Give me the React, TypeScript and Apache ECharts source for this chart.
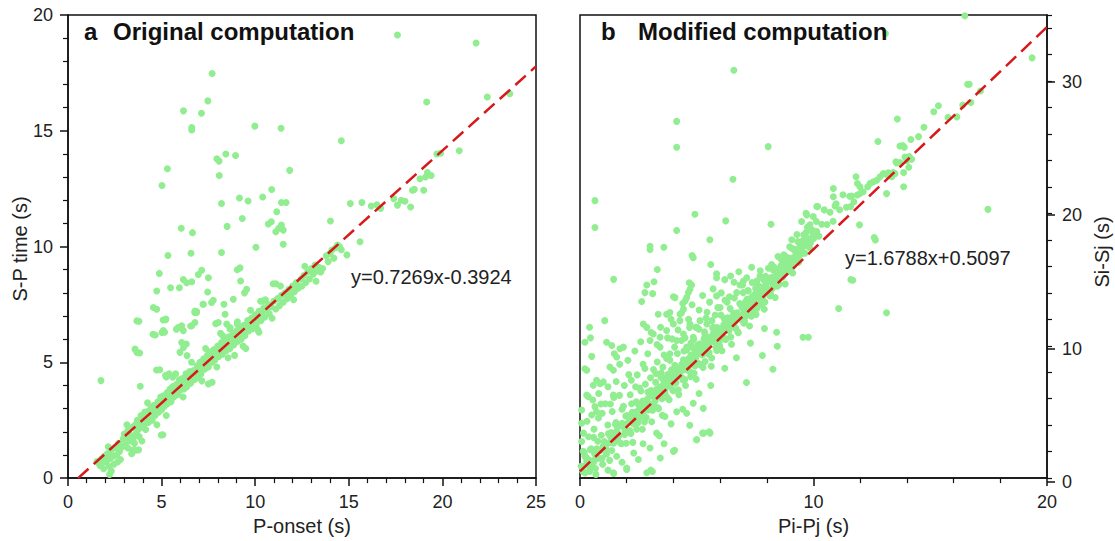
import React, { useEffect, useRef } from "react";
import * as echarts from "echarts";

// ---------- Panel a: P-onset (s) vs S-P time (s) ----------
const aOutliers: number[][] = [
  [17.6, 19.14], [21.8, 18.79], [7.7, 17.47], [7.47, 16.29], [6.17, 15.86], [7.13, 15.76], [6.61, 15.14], [6.61, 15.03],
  [9.98, 15.2], [11.38, 15.11], [14.6, 14.57], [19.16, 16.24], [22.4, 16.46], [23.6, 16.6], [5.31, 13.36], [5.02, 12.64],
  [7.95, 13.79], [8.07, 13.69], [8.43, 14.0], [8.95, 13.93], [8.08, 13.07], [11.84, 13.29], [9.16, 12.1], [9.62, 11.97],
  [10.4, 12.14], [10.88, 12.46], [8.2, 11.86], [11.15, 11.5], [11.4, 11.9], [11.65, 11.9], [9.31, 11.21], [6.05, 10.79],
  [6.65, 10.6], [8.5, 10.87], [10.7, 10.97], [10.86, 11.07], [11.26, 10.79], [11.4, 10.93], [11.5, 10.71], [11.1, 10.64],
  [11.5, 10.1], [10.04, 9.97], [8.2, 9.74], [6.57, 9.71], [5.34, 9.61], [14.02, 11.1], [15.08, 11.86], [15.7, 11.9],
  [15.6, 10.21], [16.2, 11.75], [16.5, 11.8], [16.7, 11.65], [17.4, 12.07], [17.6, 11.79], [18.0, 11.96], [18.3, 11.71],
  [17.8, 12.0], [18.4, 12.43], [18.5, 12.47], [19.0, 12.43], [18.8, 12.93], [19.1, 13.0], [19.4, 13.07], [19.2, 13.2],
  [19.7, 14.0], [19.9, 14.03], [20.9, 14.14],
  [4.88, 8.84], [4.74, 8.08], [5.48, 8.22], [5.95, 8.22], [6.16, 8.58], [6.34, 8.44], [6.61, 8.48], [6.96, 8.79],
  [7.14, 8.98], [7.5, 8.65], [7.46, 8.04], [7.23, 7.51], [7.67, 7.58], [7.76, 7.68], [8.33, 7.51], [8.83, 7.72],
  [6.78, 7.22], [6.87, 7.15], [5.23, 6.87], [4.74, 7.29], [4.56, 7.37], [5.95, 6.51], [6.07, 6.58], [6.61, 6.58],
  [6.78, 6.72], [8.03, 6.72], [8.48, 6.65], [8.65, 6.44], [5.09, 6.37], [6.16, 6.37], [9.19, 9.08], [9.22, 8.51],
  [9.54, 8.15], [11.11, 8.39], [8.39, 7.08], [10.4, 7.65], [9.04, 9.0], [10.96, 8.39], [9.43, 8.0], [10.29, 7.64],
  [3.68, 6.79], [5.08, 6.83], [4.54, 6.21], [5.02, 6.29], [5.79, 6.43], [5.88, 6.5], [6.55, 6.57], [8.66, 6.5],
  [9.05, 6.64], [8.28, 6.14], [7.89, 6.67], [3.58, 5.57], [3.68, 5.43], [3.83, 5.4], [6.07, 5.86], [6.17, 5.64],
  [6.36, 5.29], [5.98, 5.43], [6.32, 5.79], [4.73, 4.67], [1.76, 4.21], [3.86, 3.97], [5.21, 4.43], [5.4, 4.5],
  [5.59, 4.36], [5.25, 4.37], [4.66, 6.18], [5.16, 6.3], [3.79, 6.77], [5.22, 6.84], [7.21, 7.51],
];

const aBand: number[][] = [
  [1.55, 0.72], [1.7, 0.55], [1.8, 0.85], [1.9, 0.4], [1.95, 0.95], [2.05, 0.7], [2.1, 1.05], [2.2, 0.5],
  [2.25, 0.85], [2.3, 1.2], [2.4, 0.95], [2.45, 0.6], [2.55, 1.3], [2.6, 1.0], [2.7, 1.5], [2.75, 1.15],
  [2.8, 0.8], [2.9, 1.35], [2.95, 1.7], [3.0, 1.9], [3.05, 1.45], [3.1, 1.75], [3.2, 1.3], [3.2, 2.05],
  [3.3, 1.6], [3.35, 1.85], [3.45, 2.2], [3.5, 1.75], [3.55, 1.5], [3.6, 2.3], [3.65, 1.95], [3.7, 2.5],
  [3.75, 2.1], [3.8, 1.8], [3.85, 2.35], [3.9, 2.7], [3.95, 2.2], [4.0, 2.55], [4.05, 2.3], [4.1, 2.85],
  [4.15, 2.1], [4.2, 2.6], [4.3, 2.9], [4.3, 2.4], [4.4, 2.75], [4.45, 3.05], [4.5, 2.5], [4.55, 2.85],
  [4.6, 3.15], [4.65, 2.7], [4.7, 3.0], [4.8, 3.3], [4.85, 2.85], [4.9, 3.1], [4.95, 3.5], [5.0, 2.95],
  [5.05, 3.25], [5.1, 3.55], [5.15, 3.1], [5.2, 3.4], [5.3, 3.7], [5.3, 3.2], [5.4, 3.5], [5.45, 3.85],
  [5.5, 3.3], [5.55, 3.6], [5.6, 3.95], [5.65, 3.5], [5.7, 3.75], [5.8, 4.05], [5.85, 3.6], [5.9, 3.9],
  [5.95, 4.25], [6.0, 3.8], [6.05, 4.1], [6.1, 4.3], [6.2, 3.85], [6.25, 4.15], [6.3, 4.5], [6.35, 3.95],
  [6.4, 4.3], [6.5, 4.6], [6.55, 4.1], [6.6, 4.4], [6.7, 4.65], [6.75, 4.25], [6.8, 4.5], [6.9, 4.85],
  [6.95, 4.35], [7.0, 4.7], [7.05, 5.0], [7.1, 4.5], [7.2, 4.85], [7.25, 5.15], [7.3, 4.7], [7.4, 5.0],
  [7.45, 5.3], [7.5, 4.8], [7.55, 5.15], [7.6, 5.45], [7.7, 5.0], [7.75, 5.3], [7.8, 5.55], [7.85, 5.1],
  [7.9, 5.4], [8.0, 5.7], [8.05, 5.25], [8.1, 5.5], [8.2, 5.85], [8.25, 5.35], [8.3, 5.65], [8.4, 5.95],
  [8.45, 5.5], [8.5, 5.8], [8.6, 6.1], [8.65, 5.6], [8.7, 5.9], [8.8, 6.2], [8.85, 5.75], [8.9, 6.05],
  [9.0, 6.35], [9.05, 5.9], [9.1, 6.2], [9.2, 6.5], [9.25, 6.0], [9.3, 6.3], [9.4, 6.6], [9.45, 6.15],
  [9.5, 6.45], [9.6, 6.8], [9.65, 6.35], [9.7, 6.6], [9.8, 6.9], [9.85, 6.45], [9.9, 6.75], [10.0, 7.05],
  [10.05, 6.6], [10.1, 6.9], [10.2, 7.2], [10.3, 6.8], [10.35, 7.1], [10.45, 7.35], [10.5, 6.95], [10.6, 7.25],
  [10.7, 7.5], [10.75, 7.1], [10.85, 7.4], [11.0, 7.65], [11.1, 7.3], [11.2, 7.75], [11.3, 7.45], [11.4, 7.9],
  [11.5, 7.6], [11.6, 8.0], [11.7, 7.75], [11.8, 8.15], [11.9, 7.9], [12.0, 8.3], [12.1, 8.05], [12.2, 8.45],
  [12.3, 8.2], [12.45, 8.6], [12.5, 8.3], [12.6, 8.75], [12.7, 8.45], [12.8, 8.9], [12.9, 8.6], [13.0, 9.05],
  [13.1, 8.8], [13.2, 9.2], [13.3, 8.95], [13.4, 9.1], [13.5, 8.9], [13.6, 9.05], [13.8, 9.6], [14.0, 9.7],
  [14.1, 9.85], [14.3, 9.95], [14.4, 10.07], [14.6, 9.86], [14.9, 9.64], [14.5, 10.0], [13.9, 9.35], [14.2, 9.5],
  [3.45, 1.2], [3.6, 1.2], [3.77, 1.22], [4.98, 1.86], [7.5, 4.07], [7.7, 4.14], [9.5, 5.6], [10.2, 6.3],
  [8.9, 5.3], [1.78, 0.59], [2.22, 0.16], [2.31, 0.3], [5.07, 1.87], [4.9, 4.68], [6.77, 7.15], [6.87, 7.19],
  [2.15, 1.35], [2.65, 0.7], [3.15, 2.3], [3.4, 1.05], [3.95, 1.6], [4.25, 3.25], [4.75, 2.3], [5.25, 2.7],
  [5.75, 4.5], [6.15, 3.5], [6.6, 5.0], [7.15, 4.2], [7.35, 5.6], [7.95, 4.8], [8.15, 6.25], [8.55, 5.2],
  [9.05, 6.75], [9.35, 5.7], [9.75, 7.25], [10.15, 6.4], [10.55, 7.7], [10.9, 6.9], [11.35, 8.3], [12.05, 7.7],
  [12.65, 9.15], [13.25, 8.5],
];

// ---------- Panel b: Pi-Pj (s) vs Si-Sj (s) ----------
const bOutliers: number[][] = [
  [16.48, 34.95], [13.08, 33.6], [6.59, 30.83], [19.36, 31.76], [4.14, 26.96], [4.14, 25.0], [8.06, 25.05], [6.55, 22.59],
  [0.64, 20.97], [0.64, 18.94], [4.92, 19.94], [6.24, 19.44], [8.18, 19.19], [4.14, 18.72], [5.56, 18.01], [3.0, 17.52],
  [3.0, 17.27], [3.59, 17.45], [4.8, 16.82], [4.85, 16.66], [5.6, 16.14], [7.35, 15.94], [17.47, 20.31], [16.6, 29.76],
  [16.67, 29.76], [17.15, 29.26], [16.74, 28.38], [16.39, 28.19], [15.15, 27.69], [15.35, 28.14], [15.76, 27.26], [16.14, 27.3],
  [13.59, 27.14], [14.73, 26.51], [14.5, 25.81], [14.17, 25.59], [12.76, 25.44], [13.82, 25.14], [13.89, 25.01], [13.56, 23.81],
  [13.7, 23.85], [14.1, 24.3], [14.2, 24.1], [14.0, 24.0], [13.86, 23.09], [13.18, 22.89], [13.41, 23.1], [13.86, 22.02],
  [13.49, 23.01], [13.35, 22.77], [13.2, 23.07], [12.99, 23.01], [12.85, 22.77], [12.71, 22.51], [12.56, 22.39], [12.42, 22.26],
  [12.32, 22.02], [12.13, 21.64], [11.99, 21.51], [11.88, 21.39], [11.82, 22.77], [11.88, 22.26], [11.99, 22.02], [10.85, 21.89],
  [10.85, 21.27], [10.92, 20.56], [10.18, 20.52], [9.68, 20.01], [11.63, 21.31], [11.73, 20.89], [11.59, 20.52], [13.13, 21.5],
  [13.92, 24.26], [13.53, 23.9], [14.08, 23.5], [13.7, 25.1], [11.97, 19.14], [12.6, 18.19], [12.65, 18.0],
  [11.6, 15.0], [11.68, 14.95], [11.08, 12.82], [13.13, 12.49], [9.55, 10.64], [9.78, 10.64], [8.45, 9.97], [8.42, 11.02],
  [7.81, 9.27], [8.26, 8.22], [7.13, 7.22], [4.99, 2.9], [5.3, 3.4], [5.53, 3.5], [4.05, 2.1], [3.44, 1.52],
  [3.03, 0.6], [3.1, 0.5], [2.0, 0.65], [1.44, 0.35], [0.68, 0.28], [1.44, 15.02],
  [3.31, 15.77], [5.85, 15.44], [5.85, 15.14], [6.45, 15.27], [2.86, 14.6], [3.17, 14.84], [3.11, 13.94], [2.78, 14.02],
  [2.64, 13.34], [4.68, 14.77], [4.78, 14.59], [4.71, 14.27], [4.64, 14.02], [4.57, 13.64], [4.5, 13.39], [4.4, 13.19],
  [4.07, 13.64], [4.0, 13.7], [4.43, 12.77], [4.28, 12.39], [3.85, 12.52], [3.71, 12.39], [3.35, 12.39], [5.85, 13.77],
  [7.14, 15.14], [6.85, 14.59], [6.71, 14.02], [6.99, 14.02], [7.21, 14.14], [7.71, 15.27], [7.85, 15.02], [8.0, 14.77],
  [7.57, 14.9], [8.21, 16.14], [8.57, 16.64], [8.71, 16.39], [9.07, 18.01], [9.49, 19.39], [9.71, 19.89], [9.99, 19.77],
  [10.14, 20.52], [9.85, 19.14], [9.64, 18.39], [9.99, 18.39], [10.14, 18.64],
  [2.71, 11.64], [2.86, 11.39], [3.14, 10.89], [3.43, 10.64], [3.0, 10.4], [3.71, 11.15], [4.0, 11.64], [4.28, 11.9],
  [4.71, 11.64], [5.0, 11.39], [5.14, 11.9], [5.43, 11.64], [5.71, 11.39], [4.14, 10.4], [4.43, 10.89], [4.85, 10.64],
  [3.43, 9.9], [3.85, 9.4], [4.57, 9.9], [5.14, 10.15],
  [0.21, 10.27], [0.5, 9.2], [1.14, 10.27], [1.36, 10.02], [1.71, 9.77], [1.86, 9.9], [1.47, 9.4], [1.57, 9.15],
  [0.21, 8.27], [0.29, 8.15], [1.28, 8.4], [1.43, 8.15], [0.71, 7.4], [0.86, 7.14], [1.0, 7.27], [0.57, 7.02],
  [0.29, 6.27], [0.36, 6.15], [1.43, 6.27], [0.64, 5.4], [0.71, 5.02], [0.5, 4.77], [0.07, 5.15], [0.07, 4.15],
  [0.07, 2.77], [0.14, 2.02], [0.21, 1.65], [0.29, 1.27], [0.14, 0.9], [0.43, 0.65], [3.28, 3.4], [3.0, 2.27],
  [2.5, 1.4], [2.86, 0.4], [2.0, 0.77], [1.43, 0.4], [4.0, 2.02], [5.0, 2.9], [5.25, 3.4], [5.57, 3.4],
  [4.57, 4.9], [4.85, 5.65], [5.28, 5.27], [4.14, 5.02], [3.64, 4.65], [0.41, 11.4], [1.06, 11.9], [0.45, 10.6],
];

const bBand: number[][] = [
  [0.05, 0.89], [0.12, 0.51], [0.18, 1.91], [0.22, 0.38], [0.31, 1.43], [0.37, 3.13], [0.41, 0.5], [0.48, 2.22],
  [0.53, 1.3], [0.58, 3.08], [0.66, 0.72], [0.72, 2.22], [0.79, 4.54], [0.83, 1.5], [0.91, 3.24], [0.97, 1.04],
  [1.02, 2.42], [1.08, 5.62], [1.13, 1.81], [1.19, 4.01], [1.27, 1.34], [1.33, 3.44], [1.38, 5.03], [1.44, 2.63],
  [1.52, 4.06], [1.57, 1.65], [1.63, 3.35], [1.69, 6.25], [1.74, 2.63], [1.81, 4.15], [1.86, 5.43], [1.93, 3.55],
  [1.98, 2.63], [2.04, 4.73], [2.09, 7.82], [2.13, 3.59], [2.21, 5.62], [2.26, 2.7], [2.32, 4.71], [2.38, 6.91],
  [2.43, 3.69], [2.49, 5.59], [2.56, 4.61], [2.61, 6.59], [2.67, 3.69], [2.72, 5.48], [2.78, 8.28], [2.84, 4.58],
  [2.91, 6.5], [2.96, 5.38], [3.02, 7.58], [3.07, 4.26], [3.14, 6.38], [3.19, 5.47], [3.24, 7.25], [3.31, 8.77],
  [3.36, 5.25], [3.42, 6.45], [3.48, 7.95], [3.53, 4.74], [3.59, 7.34], [3.65, 6.34], [3.71, 9.04], [3.77, 7.84],
  [3.82, 5.92], [3.88, 7.42], [3.94, 10.52], [3.99, 6.61], [4.06, 8.53], [4.11, 7.21], [4.17, 9.41], [4.23, 6.31],
  [4.28, 8.2], [4.34, 10.4], [4.41, 7.41], [4.46, 8.9], [4.52, 7.0], [4.57, 9.68], [4.63, 8.38], [4.69, 11.38],
  [4.74, 7.67], [4.81, 9.29], [4.87, 10.49], [4.92, 8.47], [4.98, 7.47], [5.04, 10.07], [5.09, 11.26], [5.15, 8.56],
  [5.21, 9.66], [5.27, 8.36], [5.33, 11.06], [5.38, 9.54], [5.44, 12.54], [5.51, 9.36], [5.56, 10.64], [5.62, 8.45],
  [5.68, 11.35], [5.73, 10.33], [5.79, 12.33], [5.86, 9.65], [5.91, 11.03], [5.97, 10.33], [6.03, 12.33], [6.08, 9.62],
  [6.14, 11.12], [6.21, 13.44], [6.26, 10.52], [6.32, 12.12], [6.38, 11.12], [6.43, 12.81], [6.49, 10.11], [6.56, 12.22],
  [6.61, 13.61], [6.67, 11.31], [6.72, 12.19], [6.78, 10.99], [6.84, 13.19], [6.91, 12.21], [6.96, 14.6], [7.02, 11.7],
  [7.08, 13.3], [7.13, 12.28], [7.19, 14.18], [7.26, 11.5], [7.31, 13.28], [7.37, 14.78], [7.43, 12.68], [7.48, 13.87],
  [7.54, 12.37], [7.61, 14.59], [7.66, 13.57], [7.72, 15.67], [7.78, 13.07], [7.83, 14.26], [7.89, 12.76], [7.95, 15.26],
  [8.02, 14.28], [8.07, 15.86], [8.13, 13.76], [8.19, 15.16], [8.24, 14.34], [8.31, 15.96], [8.36, 13.65], [8.42, 15.35],
  [8.48, 16.75], [8.54, 14.65], [8.61, 16.07], [8.67, 15.47], [8.73, 16.87], [8.79, 14.67], [8.86, 16.39], [8.92, 15.69],
  [8.98, 17.49], [9.04, 16.29], [9.11, 15.5], [9.17, 17.31], [9.23, 16.81], [9.29, 18.41], [9.36, 16.32], [9.42, 17.53],
  [9.51, 16.98], [9.58, 18.39], [9.66, 17.63], [9.74, 18.96], [9.83, 17.41], [9.92, 18.66], [10.01, 18.12], [10.12, 19.4],
  [10.23, 18.29], [10.35, 19.19], [10.46, 20.27], [10.58, 19.17], [10.71, 20.09], [10.84, 19.41], [10.97, 20.73], [11.12, 20.28],
  [11.26, 21.41], [11.41, 20.47], [11.55, 21.3],
];

const bCore: number[][] = [
  [0.08, 0.84], [0.16, 0.48], [0.27, 1.56], [0.34, 0.98], [0.44, 2.15], [0.51, 0.87], [0.62, 1.85], [0.69, 1.47],
  [0.76, 2.79], [0.87, 2.07], [0.94, 1.49], [1.04, 2.76], [1.11, 2.17], [1.22, 3.36], [1.29, 2.68], [1.36, 2.09],
  [1.47, 3.38], [1.54, 4.2], [1.61, 2.91], [1.72, 4.0], [1.78, 2.6], [1.88, 3.87], [1.96, 4.7], [2.02, 3.5],
  [2.11, 4.35], [2.18, 3.37], [2.24, 4.97], [2.34, 4.44], [2.41, 5.76], [2.47, 4.16], [2.53, 5.16], [2.63, 4.73],
  [2.69, 5.83], [2.76, 4.24], [2.82, 5.34], [2.88, 5.95], [2.94, 5.15], [3.04, 6.61], [3.11, 5.13], [3.17, 6.13],
  [3.22, 5.82], [3.28, 6.72], [3.34, 5.32], [3.39, 6.4], [3.46, 7.62], [3.51, 6.0], [3.57, 7.0], [3.63, 6.5],
  [3.68, 7.59], [3.74, 6.09], [3.79, 7.17], [3.86, 6.99], [3.92, 8.19], [3.97, 6.68], [4.03, 7.68], [4.09, 7.18],
  [4.14, 8.26], [4.21, 6.68], [4.26, 7.76], [4.32, 8.36], [4.38, 7.56], [4.43, 8.95], [4.49, 7.45], [4.55, 8.35],
  [4.61, 8.15], [4.67, 9.05], [4.72, 8.03], [4.78, 8.94], [4.84, 9.84], [4.89, 7.92], [4.96, 9.14], [5.02, 8.74],
  [5.07, 9.92], [5.13, 8.62], [5.18, 9.71], [5.24, 9.31], [5.31, 10.53], [5.36, 8.81], [5.42, 9.81], [5.48, 10.41],
  [5.53, 9.49], [5.59, 10.29], [5.64, 9.08], [5.71, 10.9], [5.77, 10.3], [5.82, 9.88], [5.88, 11.38], [5.94, 10.78],
  [5.99, 9.97], [6.06, 11.28], [6.11, 10.67], [6.17, 12.07], [6.23, 10.47], [6.29, 11.47], [6.34, 11.15], [6.41, 12.07],
  [6.46, 10.66], [6.52, 11.66], [6.58, 12.46], [6.64, 11.36], [6.69, 12.24], [6.76, 11.06], [6.81, 12.04], [6.87, 13.14],
  [6.93, 11.95], [6.99, 12.85], [7.05, 11.85], [7.11, 12.75], [7.16, 13.53], [7.22, 12.53], [7.28, 13.23], [7.34, 12.23],
  [7.39, 13.72], [7.46, 13.13], [7.52, 14.34], [7.57, 12.82], [7.63, 13.72], [7.69, 13.22], [7.75, 14.42], [7.81, 13.62],
  [7.86, 14.31], [7.92, 13.31], [7.98, 15.01], [8.04, 14.31], [8.09, 14.89], [8.16, 13.91], [8.22, 14.81], [8.28, 15.71],
  [8.33, 14.6], [8.39, 15.3], [8.45, 14.5], [8.51, 15.8], [8.57, 15.3], [8.63, 16.5], [8.69, 15.3], [8.76, 16.12],
  [8.82, 16.72], [8.88, 15.92], [8.95, 16.64], [9.02, 15.95], [9.08, 17.35], [9.14, 16.66], [9.21, 17.17], [9.27, 16.47],
  [9.33, 17.87], [9.39, 17.27], [9.46, 16.99], [9.54, 17.93], [9.62, 17.56], [9.69, 18.58], [9.77, 18.11], [9.87, 17.78],
  [9.96, 18.73],
  [0.35, 1.4], [0.58, 1.2], [0.73, 2.0], [0.99, 2.4], [1.16, 2.6], [1.31, 3.1], [1.42, 2.7], [1.58, 3.6],
  [1.67, 3.2], [1.83, 3.9], [1.91, 3.3], [2.07, 4.2], [2.16, 4.6], [2.29, 4.1], [2.37, 5.0], [2.51, 4.5],
  [2.58, 5.3], [2.71, 4.9], [2.79, 5.6], [2.93, 5.6], [2.99, 6.2], [3.09, 5.6], [3.21, 6.4], [3.32, 6.2],
  [3.44, 6.9], [3.55, 6.6], [3.61, 7.3], [3.72, 6.9], [3.83, 7.6], [3.91, 7.2], [4.01, 7.9], [4.12, 7.6],
  [4.19, 8.1], [4.29, 8.0], [4.36, 8.6], [4.47, 8.2], [4.58, 8.9], [4.66, 8.6], [4.76, 9.3], [4.86, 8.9],
  [4.94, 9.6], [5.05, 9.4], [5.16, 10.0], [5.23, 9.6], [5.34, 10.2], [5.46, 9.9], [5.55, 10.6], [5.66, 10.4],
  [5.74, 11.0], [5.85, 10.7], [5.96, 11.3], [6.04, 10.9], [6.16, 11.6], [6.24, 11.2], [6.36, 11.9], [6.44, 11.5],
  [6.55, 12.1], [6.63, 11.8], [6.74, 12.5], [6.83, 12.2], [6.94, 12.9], [7.03, 12.6], [7.14, 13.1], [7.24, 12.9],
  [7.33, 13.6], [7.44, 13.3], [7.55, 14.0], [7.64, 13.5], [7.74, 14.2], [7.84, 13.9], [7.94, 14.6], [8.06, 14.1],
  [8.17, 14.9], [8.26, 14.5], [8.37, 15.2], [8.47, 14.9], [8.58, 15.6], [8.68, 15.2], [8.8, 15.9], [8.9, 15.6],
  [9.0, 16.3], [9.12, 16.0], [9.25, 16.7], [9.37, 16.6], [9.5, 17.2], [9.63, 17.0], [9.75, 17.7],
];

const bFan: number[][] = [
  [0.3, 4.3], [0.55, 5.9], [0.8, 6.4], [0.95, 4.9], [1.2, 6.9], [1.3, 5.6], [1.55, 7.3], [1.7, 8.6],
  [1.9, 7.0], [2.05, 8.9], [2.15, 6.3], [2.35, 9.6], [2.45, 7.8], [2.6, 10.3], [2.7, 8.6], [2.9, 9.4],
  [3.05, 11.0], [3.15, 8.2], [3.3, 10.1], [3.45, 11.4], [3.6, 9.3], [3.75, 10.6], [3.9, 12.0], [4.05, 9.9],
  [4.2, 11.2], [4.35, 12.5], [4.5, 10.6], [4.65, 12.0], [4.8, 13.1], [4.95, 11.4], [5.1, 12.7], [5.25, 13.8],
  [5.4, 12.1], [5.55, 13.3], [5.7, 14.3], [5.9, 12.9], [6.05, 14.0], [6.2, 15.0], [6.4, 13.7], [6.6, 14.8],
  [6.8, 15.6], [7.0, 14.9], [0.15, 3.4], [0.6, 3.7], [0.9, 5.6], [1.45, 6.1], [1.8, 5.2], [2.2, 7.4],
  [2.55, 6.8], [2.8, 7.1], [3.25, 7.9], [3.55, 8.4], [3.85, 8.9], [4.45, 9.6], [4.75, 10.2], [5.35, 10.9],
  [5.65, 11.9], [6.0, 12.9], [6.3, 13.3],
  [2.3, 1.9], [2.7, 2.6], [3.4, 3.2], [3.9, 4.1], [4.4, 5.2], [5.1, 6.4], [5.6, 7.0], [6.2, 8.3],
  [6.7, 9.1], [7.3, 10.2], [7.9, 11.3], [1.8, 1.2], [1.2, 0.6], [3.6, 2.6], [4.7, 4.0],
];

// Regression lines (end points read from the printed fits)
const aFit: number[][] = [[0.54, 0], [25, 17.78]];
const bFit: number[][] = [[0, 0.51], [20, 34.09]];

const FONT = "'Liberation Sans', Arial, Helvetica, sans-serif";
const DOT = "#90ee90";
const RED = "#d7191c";

export default function App() {
  const ref = useRef<HTMLDivElement>(null);
  useEffect(() => {
    if (!ref.current) return;
    const chart = echarts.init(ref.current, undefined, { renderer: "svg" });
    const axisLine = { show: true, onZero: false, lineStyle: { color: "#111", width: 1.5 } };
    const label = { color: "#222", fontSize: 18, fontFamily: FONT, margin: 15 };
    const tick = { show: true, length: 8, lineStyle: { color: "#111", width: 1.5 } };
    const minor = { show: true, splitNumber: 5, length: 5, lineStyle: { color: "#111", width: 1.2 } };
    const gb = { left: 580, top: 15, width: 467, height: 467 };
    chart.setOption({
      animation: false,
      backgroundColor: "#fff",
      textStyle: { fontFamily: FONT },
      grid: [
        { left: 68, top: 15, width: 468, height: 467, show: true, borderColor: "#111", borderWidth: 1.5, backgroundColor: "transparent" },
        { ...gb, show: true, borderColor: "#111", borderWidth: 1.5, backgroundColor: "transparent" },
        { ...gb, show: false },
      ],
      xAxis: [
        {
          gridIndex: 0, type: "value", min: 0, max: 25, interval: 5,
          axisLine, axisTick: tick, minorTick: minor, axisLabel: label, splitLine: { show: false },
          name: "P-onset (s)", nameLocation: "middle", nameGap: 33,
          nameTextStyle: { fontSize: 20, color: "#222", fontFamily: FONT },
        },
        {
          gridIndex: 1, type: "value", min: 0, max: 20, interval: 10,
          axisLine, axisTick: tick, minorTick: minor, axisLabel: label, splitLine: { show: false },
          name: "Pi-Pj (s)", nameLocation: "middle", nameGap: 33,
          nameTextStyle: { fontSize: 20, color: "#222", fontFamily: FONT },
        },
        { gridIndex: 2, type: "value", min: 0, max: 20, show: false, axisLine: { onZero: false } },
      ],
      yAxis: [
        {
          gridIndex: 0, type: "value", min: 0, max: 20, interval: 5,
          axisLine, axisTick: tick, minorTick: minor, axisLabel: label, splitLine: { show: false },
        },
        {
          // minor ticks every 2 s on the right axis of panel b
          gridIndex: 1, type: "value", min: 0, max: 35, interval: 2, position: "right",
          axisLine,
          axisTick: { show: true, length: 5, lineStyle: { color: "#111", width: 1.2 } },
          axisLabel: { show: false },
          splitLine: { show: false },
        },
        {
          // major ticks and labels every 10 s
          gridIndex: 2, type: "value", min: 0, max: 35, interval: 10, position: "right",
          axisLine: { show: false, onZero: false },
          axisTick: tick,
          axisLabel: { ...label, showMaxLabel: false },
          splitLine: { show: false },
        },
      ],
      series: [
        { type: "scatter", xAxisIndex: 0, yAxisIndex: 0, data: [...aBand, ...aOutliers], symbolSize: 7, itemStyle: { color: DOT, opacity: 1 }, z: 2 },
        { type: "scatter", xAxisIndex: 1, yAxisIndex: 1, data: [...bBand, ...bCore, ...bFan, ...bOutliers], symbolSize: 7, itemStyle: { color: DOT, opacity: 1 }, z: 2 },
        { type: "line", xAxisIndex: 0, yAxisIndex: 0, data: aFit, showSymbol: false, lineStyle: { color: RED, width: 2.5, type: [14, 7] }, z: 3 },
        { type: "line", xAxisIndex: 1, yAxisIndex: 1, data: bFit, showSymbol: false, lineStyle: { color: RED, width: 2.5, type: [14, 7] }, z: 3 },
      ],
      graphic: [
        { type: "text", x: 84, y: 31, style: { text: "a", fontSize: 24, fontWeight: "bold", fontFamily: FONT, fill: "#111", verticalAlign: "middle" }, z: 10 },
        { type: "text", x: 113, y: 31, style: { text: "Original computation", fontSize: 24, fontWeight: "bold", fontFamily: FONT, fill: "#111", verticalAlign: "middle" }, z: 10 },
        { type: "text", x: 601, y: 31, style: { text: "b", fontSize: 24, fontWeight: "bold", fontFamily: FONT, fill: "#111", verticalAlign: "middle" }, z: 10 },
        { type: "text", x: 638, y: 31, style: { text: "Modified computation", fontSize: 24, fontWeight: "bold", fontFamily: FONT, fill: "#111", verticalAlign: "middle" }, z: 10 },
        { type: "text", x: 351, y: 277, style: { text: "y=0.7269x-0.3924", fontSize: 20, fontFamily: FONT, fill: "#222", verticalAlign: "middle" }, z: 10 },
        { type: "text", x: 845, y: 258, style: { text: "y=1.6788x+0.5097", fontSize: 20, fontFamily: FONT, fill: "#222", verticalAlign: "middle" }, z: 10 },
        { type: "text", x: 20, y: 249, rotation: Math.PI / 2, style: { text: "S-P time (s)", fontSize: 20, fontFamily: FONT, fill: "#222", align: "center", verticalAlign: "middle" }, z: 10 },
        { type: "text", x: 1102, y: 252, rotation: Math.PI / 2, style: { text: "Si-Sj (s)", fontSize: 20, fontFamily: FONT, fill: "#222", align: "center", verticalAlign: "middle" }, z: 10 },
      ],
    });
    return () => chart.dispose();
  }, []);
  return <div ref={ref} style={{ width: 1115, height: 541, position: "absolute", left: 0, top: 0 }} />;
}
